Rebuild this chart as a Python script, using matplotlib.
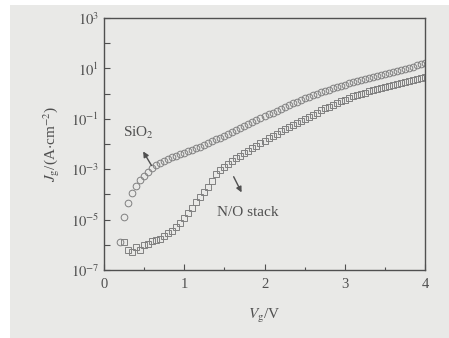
import numpy as np
import matplotlib
matplotlib.use("Agg")
import matplotlib.pyplot as plt
from matplotlib.ticker import FixedLocator, FuncFormatter, MultipleLocator

plt.rcParams['font.family'] = ['Liberation Serif', 'DejaVu Serif']
plt.rcParams['mathtext.fontset'] = 'stix'

# ---- data (log10 of J_g in A/cm^2) ----
sio2_v = [0.20, 0.25, 0.30, 0.35, 0.40, 0.45, 0.50, 0.55, 0.60, 0.65, 0.70, 0.75, 0.80, 0.85,
          0.90, 0.95, 1.00, 1.05, 1.10, 1.15, 1.20, 1.25, 1.30, 1.35, 1.40, 1.45, 1.50, 1.55,
          1.60, 1.65, 1.70, 1.75, 1.80, 1.85, 1.90, 1.95, 2.00, 2.05, 2.10, 2.15, 2.20, 2.25,
          2.30, 2.35, 2.40, 2.45, 2.50, 2.55, 2.60, 2.65, 2.70, 2.75, 2.80, 2.85, 2.90, 2.95,
          3.00, 3.05, 3.10, 3.15, 3.20, 3.25, 3.30, 3.35, 3.40, 3.45, 3.50, 3.55, 3.60, 3.65,
          3.70, 3.75, 3.80, 3.85, 3.90, 3.95, 4.00]
sio2_logj = [-5.9, -4.9, -4.35, -3.95, -3.65, -3.42, -3.25, -3.1, -2.97, -2.85, -2.74, -2.66,
             -2.59, -2.52, -2.46, -2.4, -2.34, -2.28, -2.22, -2.16, -2.1, -2.03, -1.96, -1.89,
             -1.82, -1.75, -1.68, -1.6, -1.53, -1.45, -1.37, -1.29, -1.21, -1.13, -1.05, -0.97,
             -0.9, -0.82, -0.75, -0.68, -0.6, -0.53, -0.46, -0.39, -0.32, -0.25, -0.19, -0.13,
             -0.07, -0.01, 0.05, 0.1, 0.16, 0.21, 0.26, 0.31, 0.36, 0.41, 0.46, 0.5, 0.55, 0.59,
             0.63, 0.67, 0.71, 0.75, 0.79, 0.83, 0.87, 0.91, 0.95, 0.99, 1.03, 1.07, 1.12, 1.16, 1.2]

no_v = [0.25, 0.30, 0.35, 0.40, 0.45, 0.50, 0.55, 0.60, 0.65, 0.70, 0.75, 0.80, 0.85, 0.90,
        0.95, 1.00, 1.05, 1.10, 1.15, 1.20, 1.25, 1.30, 1.35, 1.40, 1.45, 1.50, 1.55, 1.60,
        1.65, 1.70, 1.75, 1.80, 1.85, 1.90, 1.95, 2.00, 2.05, 2.10, 2.15, 2.20, 2.25, 2.30,
        2.35, 2.40, 2.45, 2.50, 2.55, 2.60, 2.65, 2.70, 2.75, 2.80, 2.85, 2.90, 2.95, 3.00,
        3.05, 3.10, 3.15, 3.20, 3.25, 3.30, 3.35, 3.40, 3.45, 3.50, 3.55, 3.60, 3.65, 3.70,
        3.75, 3.80, 3.85, 3.90, 3.95, 4.00]
no_logj = [-5.9, -6.2, -6.3, -6.1, -6.2, -6.0, -5.95, -5.85, -5.8, -5.75, -5.65, -5.55, -5.45,
           -5.3, -5.15, -4.95, -4.75, -4.52, -4.3, -4.1, -3.9, -3.7, -3.45, -3.2, -3.05, -2.92,
           -2.8, -2.68, -2.57, -2.46, -2.36, -2.27, -2.17, -2.07, -1.97, -1.87, -1.77, -1.68,
           -1.59, -1.5, -1.41, -1.32, -1.24, -1.15, -1.07, -0.99, -0.91, -0.83, -0.75, -0.67,
           -0.59, -0.52, -0.45, -0.38, -0.31, -0.24, -0.17, -0.11, -0.06, -0.01, 0.04, 0.09,
           0.14, 0.19, 0.23, 0.27, 0.31, 0.35, 0.39, 0.42, 0.46, 0.5, 0.53, 0.57, 0.6, 0.64]

x_ticks = [0, 1, 2, 3, 4]
y_exponents = list(range(-7, 4))
y_label_exponents = [3, 1, -1, -3, -5, -7]

# ---- figure ----
bg = '#e9e9e7'
ink = '#505050'
W, H = 449, 338
fig = plt.figure(figsize=(W / 100, H / 100), dpi=100, facecolor='white')
fig.patches.append(plt.Rectangle((10 / W, 0), 1, (H - 5) / H, transform=fig.transFigure,
                                 facecolor=bg, edgecolor='none', zorder=-10))
ax = fig.add_axes([104 / W, (H - 270) / H, (425 - 104) / W, (270 - 18) / H])
ax.set_facecolor(bg)

ax.plot(sio2_v, np.power(10.0, sio2_logj), linestyle='none', marker='o', markersize=4.8,
        markerfacecolor='none', markeredgecolor='#808080', markeredgewidth=0.7)
ax.plot(no_v, np.power(10.0, no_logj), linestyle='none', marker='s', markersize=4.6,
        markerfacecolor='none', markeredgecolor='#808080', markeredgewidth=0.7)

ax.set_yscale('log')
ax.set_xlim(0, 4)
ax.set_ylim(1e-7, 1e3)
ax.xaxis.set_major_locator(FixedLocator(x_ticks))
ax.xaxis.set_minor_locator(MultipleLocator(0.5))
ax.yaxis.set_major_locator(FixedLocator([10.0 ** k for k in y_exponents]))
ax.yaxis.set_minor_locator(FixedLocator([]))


def yfmt(v, pos):
    k = int(round(np.log10(v)))
    if k in y_label_exponents:
        return r'$10^{%d}$' % k
    return ''


ax.yaxis.set_major_formatter(FuncFormatter(yfmt))
ax.xaxis.set_major_formatter(FuncFormatter(lambda v, p: '%d' % v))

for s in ax.spines.values():
    s.set_color(ink)
    s.set_linewidth(1.0)
ax.tick_params(axis='both', which='major', direction='in', length=4, width=0.8,
               colors=ink, labelsize=10.5)
ax.tick_params(axis='both', which='minor', direction='in', length=2.5, width=0.8, colors=ink)
ax.tick_params(axis='x', pad=6)

ax.set_xlabel(r'$V_{\rm g}$/V', fontsize=11, color=ink, labelpad=11)
ax.set_ylabel(r'$J_{\rm g}$/(A$\cdot$cm$^{-2}$)', fontsize=11, color=ink, labelpad=6)

# annotations
ax.annotate('', xy=(0.47, 10 ** -2.2), xytext=(0.61, 10 ** -2.95),
            arrowprops=dict(arrowstyle='-|>', color=ink, lw=1.0, mutation_scale=8))
ax.text(0.24, 10 ** -1.56, r'SiO$_2$', fontsize=11, color=ink, ha='left', va='center')
ax.annotate('', xy=(1.73, 10 ** -4.02), xytext=(1.6, 10 ** -3.2),
            arrowprops=dict(arrowstyle='-|>', color=ink, lw=1.0, mutation_scale=8))
ax.text(1.41, 10 ** -4.7, 'N/O stack', fontsize=11, color=ink, ha='left', va='center')

fig.savefig('out.png', dpi=100, facecolor=fig.get_facecolor())
